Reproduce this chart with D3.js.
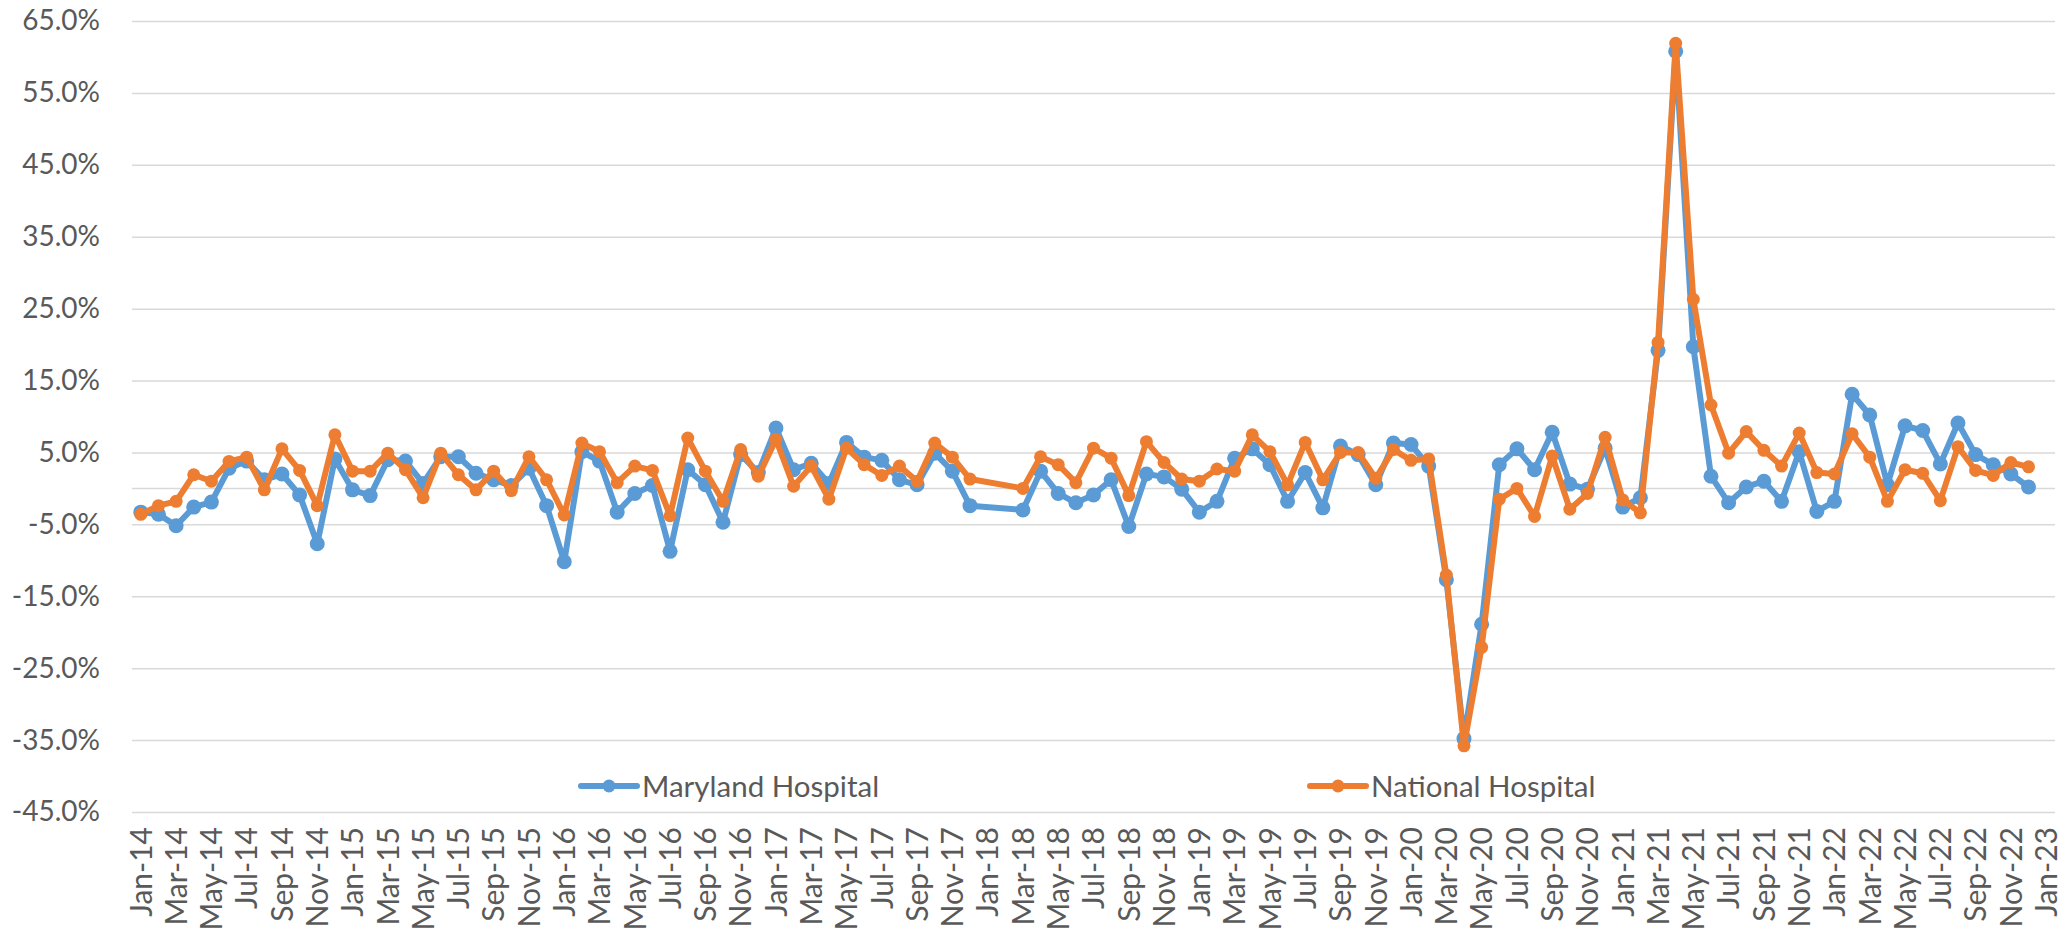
<!DOCTYPE html>
<html>
<head>
<meta charset="utf-8">
<script src="https://cdn.jsdelivr.net/npm/d3@7/dist/d3.min.js"></script>
<style>
  body { margin: 0; background: #fff; }
  svg text { font-family: Lato, "Open Sans", sans-serif; fill: #595959; }
</style>
</head>
<body>
<svg id="chart" width="2065" height="933"></svg>
<script>
// categories: Jan-14 .. Jan-23
const monthNames = ["Jan", "Feb", "Mar", "Apr", "May", "Jun", "Jul", "Aug", "Sep", "Oct", "Nov", "Dec"];
const yearSuffixes = ["14", "15", "16", "17", "18", "19", "20", "21", "22", "23"];
const categories = [];
yearSuffixes.forEach(yr => monthNames.forEach(m => {
  if (yr !== "23" || m === "Jan") categories.push(`${m}-${yr}`);
}));

// monthly change in %, Jan-14 .. Dec-22 (Jan-18 / Feb-18 not reported)
const marylandHospital = [
  -3.3, -3.6, -5.2, -2.6, -1.9, 2.8, 3.8, 1.2, 2.0, -0.9, -7.7, 4.1,
  -0.2, -1.0, 4.0, 3.8, 0.7, 4.4, 4.4, 2.1, 1.2, 0.4, 2.8, -2.4,
  -10.2, 5.1, 3.8, -3.3, -0.7, 0.4, -8.75, 2.6, 0.5, -4.7, 4.7, 2.2,
  8.4, 2.6, 3.5, 0.7, 6.4, 4.35, 3.9, 1.2, 0.5, 4.9, 2.4, -2.4,
  null, null, -3.0, 2.4, -0.7, -2.0, -0.9, 1.2, -5.3, 2.0, 1.6, -0.1,
  -3.3, -1.8, 4.2, 5.5, 3.3, -1.8, 2.2, -2.7, 5.9, 4.7, 0.5, 6.3,
  6.1, 3.1, -12.7, -34.8, -18.9, 3.3, 5.5, 2.6, 7.8, 0.6, -0.1, 5.6,
  -2.6, -1.3, 19.2, 60.8, 19.7, 1.7, -2.0, 0.2, 1.0, -1.8, 5.1, -3.2,
  -1.8, 13.1, 10.2, 0.5, 8.7, 8.05, 3.4, 9.1, 4.7, 3.3, 2.0, 0.2
];
const nationalHospital = [
  -3.6, -2.4, -1.8, 1.9, 1.0, 3.75, 4.35, -0.2, 5.5, 2.5, -2.4, 7.45,
  2.4, 2.4, 4.9, 2.6, -1.3, 4.9, 1.9, -0.2, 2.4, -0.3, 4.4, 1.2,
  -3.7, 6.3, 5.1, 0.8, 3.1, 2.5, -3.8, 7.0, 2.4, -1.8, 5.4, 1.7,
  6.8, 0.3, 3.1, -1.5, 5.6, 3.3, 1.8, 3.1, 1.0, 6.3, 4.35, 1.3,
  null, null, 0.0, 4.4, 3.3, 0.8, 5.6, 4.2, -1.0, 6.5, 3.6, 1.3,
  1.0, 2.7, 2.4, 7.45, 5.1, 0.5, 6.4, 1.2, 5.0, 5.0, 1.4, 5.4,
  3.9, 4.1, -12.05, -35.8, -22.1, -1.5, 0.0, -3.9, 4.5, -2.9, -0.7, 7.1,
  -1.6, -3.4, 20.3, 61.9, 26.3, 11.6, 4.9, 7.9, 5.3, 3.1, 7.7, 2.2,
  2.0, 7.6, 4.35, -1.8, 2.6, 2.1, -1.7, 5.8, 2.5, 1.8, 3.6, 3.0
];

const yTicks = [-45, -35, -25, -15, -5, 5, 15, 25, 35, 45, 55, 65];
const xTickLabels = categories.filter((d, i) => i % 2 === 0);

const series = [
  { name: "Maryland Hospital", values: marylandHospital, color: "#5B9BD5", r: 7.5 },
  { name: "National Hospital", values: nationalHospital, color: "#ED7D31", r: 6.5 }
];

const svg = d3.select("#chart");
const plot = { left: 132, right: 2055, top: 21, bottom: 812 };

const x = d3.scaleBand().domain(categories).range([plot.left, plot.right]);
const y = d3.scaleLinear().domain([-45, 65]).range([plot.bottom, plot.top]);
const cx = c => x(c) + x.bandwidth() / 2;

// y axis + gridlines
const yAxis = svg.append("g")
  .attr("transform", `translate(${plot.left},0)`)
  .call(d3.axisLeft(y)
    .tickValues(yTicks)
    .tickSize(-(plot.right - plot.left))
    .tickPadding(32)
    .tickFormat(d => d.toFixed(1) + "%"));
yAxis.select(".domain").remove();
yAxis.selectAll(".tick line").attr("stroke", "#D9D9D9").attr("stroke-width", 1.5);
yAxis.selectAll(".tick text")
  .attr("fill", "#595959")
  .style("font-size", "28px");

// horizontal category axis line crosses at 0
svg.append("line")
  .attr("x1", plot.left).attr("x2", plot.right)
  .attr("y1", y(0)).attr("y2", y(0))
  .attr("stroke", "#D9D9D9").attr("stroke-width", 1.5);

// x axis labels (low position)
const xAxis = svg.append("g")
  .attr("transform", `translate(0,${plot.bottom})`)
  .call(d3.axisBottom(x).tickValues(xTickLabels).tickSize(0));
xAxis.select(".domain").remove();
xAxis.selectAll(".tick text")
  .attr("text-anchor", "end")
  .attr("transform", "rotate(-90)")
  .attr("x", -15)
  .attr("y", 0)
  .attr("dy", "0.36em")
  .attr("fill", "#595959")
  .style("font-size", "30px");

// series
const line = d3.line()
  .x(d => cx(d.c))
  .y(d => y(d.v));

series.forEach(s => {
  const pts = categories.slice(0, s.values.length)
    .map((c, i) => ({ c, v: s.values[i] }))
    .filter(d => d.v !== null);
  const g = svg.append("g");
  g.append("path")
    .datum(pts)
    .attr("fill", "none")
    .attr("stroke", s.color)
    .attr("stroke-width", 6)
    .attr("stroke-linejoin", "round")
    .attr("stroke-linecap", "round")
    .attr("d", line);
  g.selectAll("circle")
    .data(pts)
    .join("circle")
    .attr("cx", d => cx(d.c))
    .attr("cy", d => y(d.v))
    .attr("r", s.r)
    .attr("fill", s.color);
});

// legend
const legendY = 786;
const legendX = [581, 1310];
series.forEach((s, i) => {
  const g = svg.append("g").attr("transform", `translate(${legendX[i]},${legendY})`);
  g.append("line")
    .attr("x1", 0).attr("x2", 56)
    .attr("stroke", s.color).attr("stroke-width", 6)
    .attr("stroke-linecap", "round");
  g.append("circle").attr("cx", 28).attr("r", 6.5).attr("fill", s.color);
  g.append("text")
    .attr("x", 61)
    .attr("dy", "0.36em")
    .style("font-size", "29.5px")
    .text(s.name);
});
</script>
</body>
</html>
